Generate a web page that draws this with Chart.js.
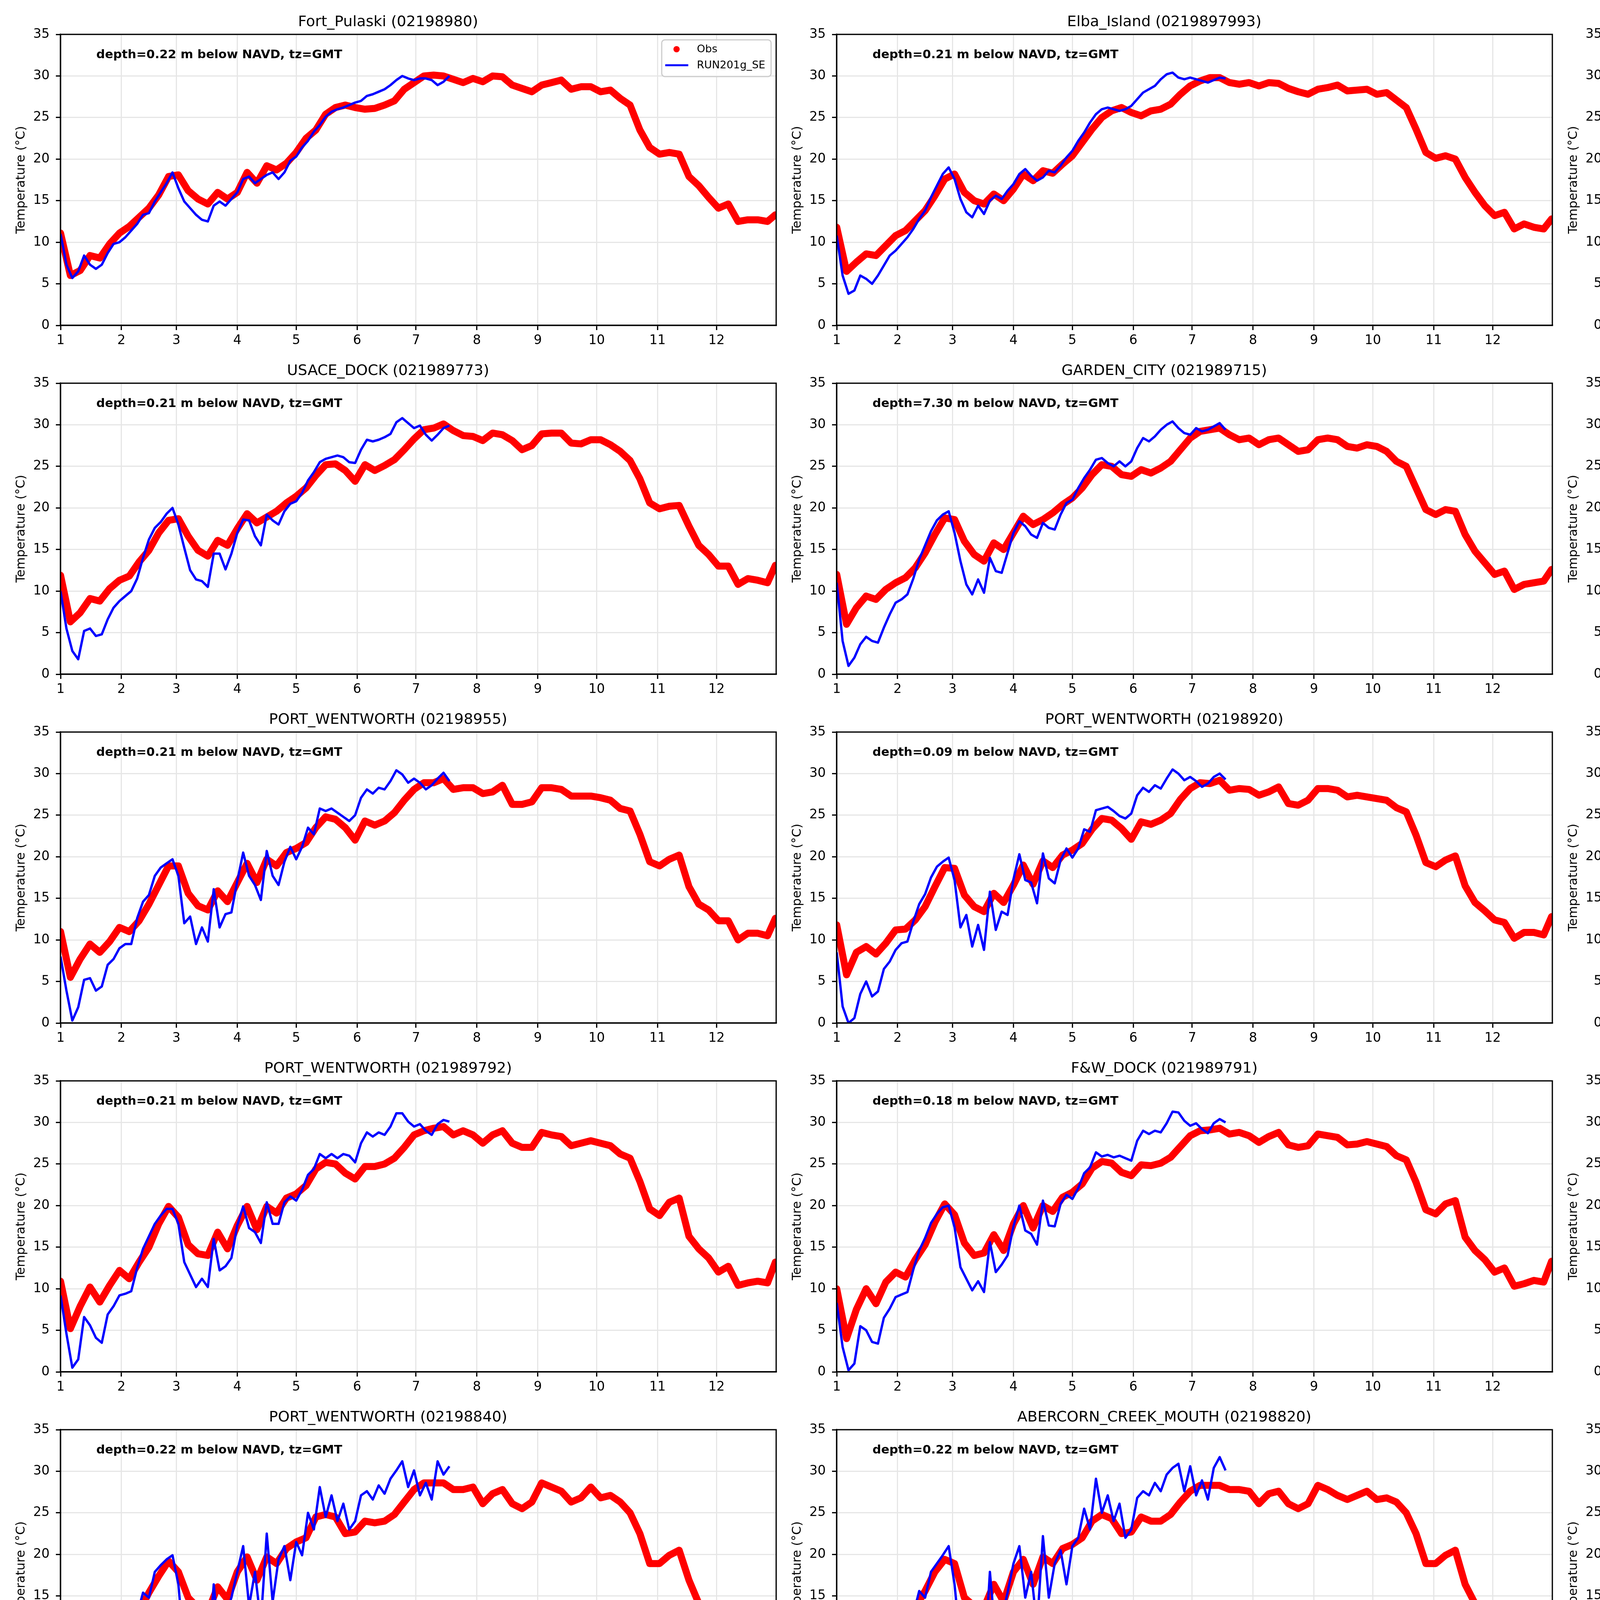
<!DOCTYPE html>
<html lang="en">
<head>
    <meta charset="UTF-8">
    <title>Water temperature: Obs vs RUN201g_SE</title>
    <script src="https://cdn.jsdelivr.net/npm/chart.js"></script>
    <style>
        body {
            margin: 0;
            background-color: #fff;
            overflow: hidden;
        }
        #panels {
            position: relative;
            width: 6000px;
            height: 4500px;
        }
        #panels canvas {
            position: absolute;
        }
    </style>
</head>
<body>
    <div id="panels"></div>

    <script>
        // x axis is day of year, ticks at the first day of each month
        const monthStartDay = [0, 31, 59, 90, 120, 151, 181, 212, 243, 273, 304, 334];
        const monthLabels = ['1', '2', '3', '4', '5', '6', '7', '8', '9', '10', '11', '12'];
        const yTicks = [0, 5, 10, 15, 20, 25, 30, 35];

        const stationTitles = [
            'Fort_Pulaski (02198980)', 'Elba_Island (0219897993)', 'US17 (0219897945)',
            'USACE_DOCK (021989773)', 'GARDEN_CITY (021989715)', 'HOG_ISLAND (021989793)',
            'PORT_WENTWORTH (02198955)', 'PORT_WENTWORTH (02198920)', 'PORT_WENTWORTH (02198950)',
            'PORT_WENTWORTH (021989792)', 'F&W_DOCK (021989791)', 'LUCKNOW_CANAL (021989784)',
            'PORT_WENTWORTH (02198840)', 'ABERCORN_CREEK_MOUTH (02198820)', 'ABERCORN_CREEK (02198810)'
        ];
        const stationDepths = ['0.22', '0.21', '0.21', '0.21', '7.30', '0.21', '0.21', '0.09', '0.21',
                               '0.21', '0.18', '0.22', '0.22', '0.22', '0.00'];

        // sample days for the observations and for the model run
        const obsDays = [0, 5, 10, 15, 20, 25, 30, 35, 40, 45, 50, 55, 60, 65, 70, 75, 80, 85, 90, 95,
                         100, 105, 110, 115, 120, 125, 130, 135, 140, 145, 150, 155, 160, 165, 170, 175,
                         180, 185, 190, 195, 200, 205, 210, 215, 220, 225, 230, 235, 240, 245, 250, 255,
                         260, 265, 270, 275, 280, 285, 290, 295, 300, 305, 310, 315, 320, 325, 330, 335,
                         340, 345, 350, 355, 360, 364];
        const modelDays = [0, 3, 6, 9, 12, 15, 18, 21, 24, 27, 30, 33, 36, 39, 42, 45, 48, 51, 54, 57,
                           60, 63, 66, 69, 72, 75, 78, 81, 84, 87, 90, 93, 96, 99, 102, 105, 108, 111,
                           114, 117, 120, 123, 126, 129, 132, 135, 138, 141, 144, 147, 150, 153, 156,
                           159, 162, 165, 168, 171, 174, 177, 180, 183, 186, 189, 192, 195, 198];

        // ---- observed temperature (deg C) ----
        const obsFortPulaski = [
            11.1, 6.0, 6.6, 8.4, 8.1, 9.8, 11.1, 11.9, 13.0, 14.1,
            15.7, 17.9, 18.1, 16.2, 15.2, 14.6, 16.0, 15.2, 16.0, 18.4,
            17.1, 19.2, 18.7, 19.5, 20.8, 22.5, 23.5, 25.4, 26.2, 26.5,
            26.2, 26.0, 26.1, 26.5, 27.0, 28.4, 29.2, 30.0, 30.1, 30.0,
            29.6, 29.2, 29.7, 29.3, 30.0, 29.9, 28.9, 28.5, 28.1, 28.9,
            29.2, 29.5, 28.4, 28.7, 28.7, 28.1, 28.3, 27.3, 26.5, 23.5,
            21.4, 20.6, 20.8, 20.6, 17.9, 16.8, 15.4, 14.1, 14.6, 12.5,
            12.7, 12.7, 12.5, 13.3];
        const obsElba = [
            11.8, 6.5, 7.6, 8.6, 8.4, 9.6, 10.8, 11.4, 12.6, 13.8,
            15.6, 17.6, 18.2, 16.0, 15.0, 14.6, 15.8, 15.0, 16.4, 18.2,
            17.4, 18.6, 18.3, 19.4, 20.4, 22.0, 23.6, 25.0, 25.8, 26.2,
            25.6, 25.2, 25.8, 26.0, 26.6, 27.8, 28.8, 29.4, 29.8, 29.8,
            29.2, 29.0, 29.2, 28.8, 29.2, 29.1, 28.5, 28.1, 27.8, 28.4,
            28.6, 28.9, 28.2, 28.3, 28.4, 27.8, 28.0, 27.1, 26.2, 23.6,
            20.8, 20.1, 20.4, 20.0, 17.8, 16.0, 14.4, 13.2, 13.6, 11.6,
            12.2, 11.8, 11.6, 12.8];
        const obsUS17 = [
            11.1, 5.0, 6.5, 9.3, 8.6, 10.4, 11.6, 12.4, 13.7, 14.9,
            17.2, 19.0, 18.0, 15.7, 14.2, 14.7, 16.2, 14.7, 17.7, 19.8,
            17.0, 19.5, 19.3, 20.8, 22.6, 23.8, 24.9, 25.9, 25.9, 25.4,
            24.4, 25.6, 25.4, 25.9, 26.9, 28.2, 28.9, 29.4, 29.2, 29.4,
            29.4, 29.2, 28.7, 28.4, 28.9, 28.9, 28.9, 27.9, 27.4, 28.7,
            28.4, 28.4, 28.2, 28.2, 27.9, 28.2, 27.4, 26.4, 25.9, 23.3,
            20.8, 19.3, 20.0, 19.5, 17.2, 15.7, 14.2, 12.6, 13.7, 10.9,
            10.6, 11.6, 11.1, 13.7];
        const obsUsaceDock = [
            11.9, 6.3, 7.4, 9.1, 8.8, 10.3, 11.3, 11.8, 13.5, 14.9,
            17.0, 18.5, 18.7, 16.6, 14.9, 14.2, 16.1, 15.5, 17.5, 19.3,
            18.2, 18.9, 19.6, 20.6, 21.4, 22.4, 23.9, 25.2, 25.3, 24.5,
            23.2, 25.2, 24.5, 25.1, 25.8, 27.0, 28.3, 29.4, 29.6, 30.1,
            29.3, 28.7, 28.6, 28.1, 29.0, 28.8, 28.1, 27.0, 27.5, 28.9,
            29.0, 29.0, 27.8, 27.7, 28.2, 28.2, 27.6, 26.8, 25.7, 23.5,
            20.6, 19.9, 20.2, 20.3, 17.8, 15.5, 14.4, 13.0, 13.0, 10.8,
            11.5, 11.3, 11.0, 13.1];
        const obsGardenCity = [
            12.0, 6.0, 8.0, 9.4, 9.0, 10.2, 11.0, 11.6, 12.8, 14.6,
            16.8, 18.8, 18.6, 16.0, 14.4, 13.6, 15.8, 15.0, 17.0, 19.0,
            18.0, 18.6, 19.4, 20.4, 21.2, 22.4, 24.0, 25.2, 25.0, 24.0,
            23.8, 24.6, 24.2, 24.8, 25.6, 27.0, 28.4, 29.2, 29.4, 29.6,
            28.8, 28.2, 28.4, 27.6, 28.2, 28.4, 27.6, 26.8, 27.0, 28.2,
            28.4, 28.2, 27.4, 27.2, 27.6, 27.4, 26.8, 25.6, 25.0, 22.4,
            19.8, 19.2, 19.8, 19.6, 16.8, 14.8, 13.4, 12.0, 12.4, 10.2,
            10.8, 11.0, 11.2, 12.6];
        const obsHogIsland = [
            10.8, 3.8, 9.0, 9.5, 7.7, 10.8, 12.3, 11.5, 13.3, 15.1,
            17.7, 20.0, 18.4, 15.9, 14.4, 13.6, 16.9, 15.4, 17.9, 20.0,
            16.9, 20.2, 19.2, 21.2, 22.3, 23.5, 25.1, 25.6, 25.1, 24.5,
            24.8, 25.8, 25.3, 25.3, 26.6, 28.1, 28.9, 29.1, 29.4, 29.1,
            28.4, 28.6, 27.9, 28.9, 29.1, 28.1, 27.4, 27.1, 26.8, 28.1,
            28.6, 28.1, 27.1, 27.6, 28.1, 27.4, 27.6, 26.6, 25.6, 23.0,
            19.4, 19.4, 20.0, 20.5, 16.9, 15.9, 13.3, 13.8, 11.3, 10.5,
            11.0, 11.0, 11.3, 13.3];
        const obsPw955 = [
            11.0, 5.5, 7.7, 9.5, 8.5, 9.8, 11.5, 11.0, 12.3, 14.3,
            16.6, 18.9, 18.9, 15.6, 14.1, 13.6, 15.9, 14.6, 16.9, 19.2,
            16.9, 19.7, 18.9, 20.5, 21.0, 21.7, 23.5, 24.8, 24.5, 23.5,
            22.0, 24.3, 23.8, 24.3, 25.3, 26.8, 28.1, 28.9, 28.9, 29.4,
            28.1, 28.3, 28.3, 27.6, 27.8, 28.6, 26.3, 26.3, 26.6, 28.3,
            28.3, 28.1, 27.3, 27.3, 27.3, 27.1, 26.8, 25.8, 25.5, 22.7,
            19.4, 18.9, 19.7, 20.2, 16.4, 14.3, 13.6, 12.3, 12.3, 10.0,
            10.8, 10.8, 10.5, 12.6];
        const obsPw920 = [
            11.8, 5.8, 8.5, 9.2, 8.3, 9.6, 11.2, 11.3, 12.4, 14.0,
            16.4, 18.7, 18.6, 15.4, 14.0, 13.4, 15.6, 14.5, 16.6, 19.0,
            16.7, 19.5, 18.7, 20.2, 20.8, 21.6, 23.3, 24.6, 24.4, 23.4,
            22.1, 24.2, 23.9, 24.4, 25.2, 26.9, 28.2, 28.9, 28.8, 29.2,
            28.0, 28.2, 28.1, 27.4, 27.8, 28.4, 26.4, 26.2, 26.8, 28.2,
            28.2, 28.0, 27.2, 27.4, 27.2, 27.0, 26.8, 25.9, 25.4, 22.6,
            19.3, 18.8, 19.6, 20.1, 16.5, 14.5, 13.5, 12.4, 12.1, 10.2,
            10.9, 10.9, 10.6, 12.8];
        const obsPw950 = [
            11.2, 5.2, 8.2, 9.6, 8.6, 10.0, 11.6, 11.1, 12.6, 14.5,
            16.8, 19.1, 18.8, 15.5, 14.2, 13.7, 16.0, 14.8, 17.1, 19.4,
            17.0, 19.8, 19.0, 20.6, 21.2, 21.9, 23.7, 24.9, 24.6, 23.6,
            22.3, 24.4, 24.0, 24.5, 25.5, 26.9, 28.3, 29.0, 29.0, 29.3,
            28.2, 28.4, 28.2, 27.6, 27.9, 28.5, 26.5, 26.4, 26.7, 28.4,
            28.3, 28.0, 27.4, 27.2, 27.4, 27.0, 26.9, 25.9, 25.6, 22.8,
            19.5, 19.0, 19.8, 20.3, 16.5, 14.4, 13.7, 12.4, 12.2, 10.1,
            10.9, 10.7, 10.6, 12.9];
        const obsPw792 = [
            10.9, 5.2, 7.9, 10.2, 8.4, 10.4, 12.2, 11.2, 13.2, 15.0,
            17.8, 19.9, 18.6, 15.3, 14.2, 14.0, 16.8, 14.8, 17.6, 19.9,
            17.1, 19.9, 19.1, 20.9, 21.4, 22.4, 24.4, 25.2, 25.0, 23.9,
            23.2, 24.7, 24.7, 25.0, 25.7, 27.0, 28.5, 29.0, 29.3, 29.5,
            28.5, 29.0, 28.5, 27.5, 28.5, 29.0, 27.5, 27.0, 27.0, 28.8,
            28.5, 28.3, 27.2, 27.5, 27.8, 27.5, 27.2, 26.2, 25.7, 22.9,
            19.6, 18.8, 20.4, 20.9, 16.3, 14.8, 13.7, 12.0, 12.7, 10.4,
            10.7, 10.9, 10.7, 13.2];
        const obsFwDock = [
            10.0, 4.0, 7.5, 10.0, 8.2, 10.8, 12.0, 11.4, 13.5, 15.3,
            18.0, 20.2, 18.9, 15.5, 14.0, 14.3, 16.5, 14.6, 17.8, 20.0,
            17.3, 20.0, 19.3, 21.0, 21.6, 22.6, 24.5, 25.3, 25.1, 24.0,
            23.6, 24.9, 24.8, 25.1, 25.8, 27.1, 28.4, 29.0, 29.1, 29.3,
            28.6, 28.8, 28.4, 27.6, 28.3, 28.8, 27.3, 27.0, 27.2, 28.6,
            28.4, 28.2, 27.3, 27.4, 27.7, 27.4, 27.1, 26.0, 25.5, 22.8,
            19.5, 19.0, 20.2, 20.6, 16.2, 14.6, 13.5, 12.0, 12.5, 10.3,
            10.6, 11.0, 10.8, 13.3];
        const obsLucknow = [
            9.9, 3.6, 7.9, 9.7, 7.9, 10.7, 12.7, 11.2, 13.5, 15.8,
            17.8, 20.4, 19.3, 15.3, 13.7, 13.0, 16.8, 14.2, 18.3, 20.4,
            17.3, 19.9, 18.8, 20.9, 21.4, 22.4, 24.4, 25.5, 25.2, 24.4,
            24.4, 25.0, 25.5, 25.2, 26.5, 27.8, 28.3, 28.8, 29.0, 29.5,
            28.3, 28.0, 27.5, 27.8, 28.8, 28.3, 27.0, 26.7, 27.2, 28.0,
            28.3, 27.5, 27.2, 27.0, 27.2, 27.0, 26.5, 25.5, 25.5, 21.9,
            19.3, 18.8, 19.9, 19.9, 16.3, 14.8, 13.7, 12.7, 12.7, 9.9,
            10.9, 11.7, 10.9, 13.7];
        const obsPw840 = [
            10.5, 5.8, 6.4, 10.8, 8.0, 11.0, 12.3, 11.3, 13.1, 15.4,
            17.4, 19.2, 17.9, 14.8, 13.6, 13.1, 16.1, 14.6, 17.9, 19.7,
            16.9, 19.7, 18.9, 20.7, 21.5, 22.0, 24.5, 24.8, 24.5, 22.5,
            22.7, 24.0, 23.8, 24.0, 24.8, 26.3, 27.8, 28.6, 28.6, 28.6,
            27.8, 27.8, 28.1, 26.1, 27.3, 27.8, 26.1, 25.5, 26.3, 28.6,
            28.1, 27.6, 26.3, 26.8, 28.1, 26.8, 27.1, 26.3, 25.0, 22.5,
            18.9, 18.9, 19.9, 20.5, 16.9, 14.1, 13.6, 12.0, 12.8, 9.8,
            10.8, 11.3, 10.8, 12.8];
        const obsAbercornMouth = [
            10.5, 5.0, 5.9, 10.5, 8.0, 10.8, 12.6, 11.5, 13.6, 15.6,
            17.9, 19.4, 18.9, 14.8, 13.8, 13.6, 16.4, 14.3, 17.9, 19.4,
            16.4, 19.7, 18.9, 20.7, 21.2, 22.0, 24.0, 24.8, 24.3, 22.5,
            22.7, 24.5, 24.0, 24.0, 24.8, 26.3, 27.6, 28.3, 28.3, 28.3,
            27.8, 27.8, 27.6, 26.1, 27.3, 27.6, 26.1, 25.5, 26.1, 28.3,
            27.8, 27.1, 26.6, 27.1, 27.6, 26.6, 26.8, 26.3, 25.0, 22.5,
            18.9, 18.9, 19.9, 20.5, 16.4, 14.1, 13.8, 11.3, 11.8, 9.2,
            11.8, 11.0, 10.8, 13.3];
        const obsAbercornCreek = [
            10.5, 4.0, 6.7, 11.0, 7.2, 10.5, 12.0, 11.0, 13.6, 15.9,
            18.4, 19.7, 18.9, 15.1, 13.8, 13.8, 16.6, 14.8, 17.9, 19.2,
            16.9, 19.4, 18.7, 20.5, 21.0, 22.0, 23.8, 24.8, 24.0, 22.5,
            23.5, 24.8, 24.3, 24.3, 25.0, 26.6, 27.8, 28.9, 29.1, 28.9,
            27.8, 28.1, 27.6, 26.1, 27.6, 27.3, 26.1, 25.8, 26.6, 28.3,
            27.8, 27.6, 26.6, 27.1, 27.3, 26.6, 26.8, 26.1, 24.8, 22.0,
            18.7, 18.9, 19.4, 20.5, 16.4, 14.3, 12.8, 10.5, 12.8, 8.7,
            11.3, 11.8, 10.8, 13.1];

        // ---- RUN201g_SE model temperature (deg C) ----
        const modFortPulaski = [
            11.0, 7.3, 5.7, 6.5, 8.4, 7.3, 6.8, 7.3, 8.7, 9.8,
            10.0, 10.6, 11.4, 12.2, 13.3, 13.5, 14.9, 16.0, 17.1, 18.4,
            16.5, 14.9, 14.1, 13.3, 12.7, 12.5, 14.4, 14.9, 14.4, 15.2,
            16.0, 17.6, 17.9, 17.1, 17.6, 18.1, 18.4, 17.6, 18.4, 19.8,
            20.3, 21.4, 22.2, 23.3, 24.1, 25.1, 25.7, 26.0, 26.2, 26.5,
            26.8, 27.0, 27.6, 27.8, 28.1, 28.4, 28.9, 29.5, 30.0, 29.7,
            29.5, 29.7, 29.7, 29.5, 28.9, 29.3, 30.0];
        const modElba = [
            10.8, 6.0, 3.8, 4.2, 6.0, 5.6, 5.0, 6.0, 7.2, 8.4,
            9.0, 9.8, 10.6, 11.6, 12.8, 13.8, 15.4, 16.8, 18.2, 19.0,
            17.6, 15.2, 13.6, 13.0, 14.4, 13.4, 15.0, 15.6, 15.2, 16.2,
            17.0, 18.2, 18.8, 18.0, 17.4, 17.8, 18.6, 18.4, 19.2, 20.2,
            21.0, 22.2, 23.2, 24.4, 25.4, 26.0, 26.2, 26.0, 25.8, 26.0,
            26.4, 27.2, 28.0, 28.4, 28.8, 29.6, 30.2, 30.4, 29.8, 29.6,
            29.8, 29.6, 29.4, 29.2, 29.5, 29.8, 29.7];
        const modUS17 = [
            10.1, 6.8, 4.0, 3.7, 5.3, 5.5, 4.8, 5.5, 6.5, 7.8,
            9.1, 9.8, 10.9, 11.6, 13.2, 14.7, 16.7, 18.0, 19.3, 19.5,
            18.5, 16.2, 14.2, 12.4, 11.9, 11.6, 14.7, 14.2, 13.4, 14.7,
            16.7, 18.5, 18.8, 17.2, 16.7, 18.2, 18.0, 18.5, 19.3, 20.3,
            21.3, 22.0, 22.8, 24.1, 25.1, 25.9, 26.1, 26.4, 26.6, 26.1,
            25.9, 27.2, 28.7, 27.9, 28.4, 28.9, 29.7, 30.5, 31.0, 30.7,
            30.5, 30.7, 30.0, 28.9, 28.7, 29.4, 30.5];
        const modUsaceDock = [
            10.0, 5.5, 2.8, 1.8, 5.2, 5.5, 4.6, 4.8, 6.6, 8.0,
            8.8, 9.4, 10.0, 11.5, 14.0, 16.2, 17.6, 18.3, 19.3, 20.0,
            18.0, 15.2, 12.5, 11.4, 11.2, 10.5, 14.5, 14.5, 12.6, 14.5,
            17.0, 18.6, 18.5, 16.6, 15.5, 19.2, 18.5, 18.0, 19.6, 20.5,
            20.8, 21.8, 23.3, 24.3, 25.5, 25.9, 26.1, 26.3, 26.1, 25.5,
            25.4, 27.0, 28.2, 28.0, 28.2, 28.5, 28.9, 30.3, 30.8, 30.2,
            29.6, 29.9, 28.8, 28.1, 28.8, 29.6, 29.9];
        const modGardenCity = [
            11.0, 4.0, 1.0, 2.0, 3.6, 4.5, 4.0, 3.8, 5.6, 7.2,
            8.6, 9.0, 9.6, 11.5, 13.8, 15.5, 17.2, 18.5, 19.2, 19.6,
            17.0, 13.6, 10.8, 9.6, 11.4, 9.8, 14.0, 12.4, 12.2, 14.6,
            17.0, 18.4, 17.8, 16.8, 16.4, 18.2, 17.6, 17.4, 19.2, 20.6,
            21.0, 22.4, 23.6, 24.6, 25.8, 26.0, 25.4, 25.0, 25.6, 25.0,
            25.6, 27.2, 28.4, 28.0, 28.6, 29.4, 30.0, 30.4, 29.6, 29.0,
            28.8, 29.6, 29.2, 29.4, 29.8, 30.2, 29.4];
        const modHogIsland = [
            9.5, 6.2, 3.1, 4.4, 5.7, 4.9, 4.4, 5.7, 6.7, 7.5,
            8.7, 9.3, 10.3, 11.8, 13.6, 15.1, 16.9, 18.4, 19.4, 20.0,
            18.9, 15.4, 12.8, 11.8, 12.3, 11.8, 14.9, 14.4, 13.1, 14.4,
            16.6, 18.7, 18.4, 17.2, 18.4, 17.9, 18.4, 18.4, 20.0, 21.0,
            20.7, 22.0, 23.5, 24.8, 25.6, 26.1, 26.3, 26.6, 26.8, 27.1,
            26.8, 27.6, 28.9, 28.6, 28.4, 29.1, 29.9, 30.7, 30.9, 30.7,
            30.4, 30.7, 29.6, 29.1, 29.4, 29.9, 30.2];
        const modPw955 = [
            8.0, 3.9, 0.3, 1.9, 5.2, 5.4, 3.9, 4.4, 7.0, 7.7,
            9.0, 9.5, 9.5, 12.6, 14.6, 15.4, 17.7, 18.7, 19.2, 19.7,
            17.7, 12.0, 12.8, 9.5, 11.5, 9.8, 16.1, 11.5, 13.1, 13.3,
            17.1, 20.5, 17.7, 16.6, 14.8, 20.7, 17.7, 16.6, 19.4, 21.2,
            19.7, 21.2, 23.5, 22.7, 25.8, 25.5, 25.8, 25.3, 24.8, 24.3,
            25.0, 27.1, 28.1, 27.6, 28.3, 28.1, 29.1, 30.4, 29.9, 28.9,
            29.4, 28.9, 28.1, 28.6, 29.4, 30.1, 29.1];
        const modPw920 = [
            8.5, 2.0, 0.0, 0.6, 3.5, 5.0, 3.2, 3.8, 6.5, 7.4,
            8.8, 9.6, 9.8, 12.2, 14.3, 15.5, 17.5, 18.8, 19.4, 19.9,
            17.2, 11.5, 13.0, 9.2, 11.8, 8.8, 15.8, 11.2, 13.4, 13.0,
            17.3, 20.3, 17.2, 16.9, 14.4, 20.4, 17.4, 16.8, 19.6, 21.0,
            19.9, 21.0, 23.3, 23.0, 25.6, 25.8, 26.0, 25.5, 24.9, 24.6,
            25.2, 27.4, 28.3, 27.8, 28.6, 28.2, 29.4, 30.5, 30.0, 29.2,
            29.6, 29.1, 28.4, 28.8, 29.6, 30.0, 29.3];
        const modPw950 = [
            7.5, 2.5, 0.0, 1.2, 4.6, 5.2, 3.6, 4.2, 6.8, 7.6,
            9.2, 9.3, 9.8, 12.4, 14.8, 15.6, 17.8, 18.9, 19.5, 19.8,
            17.5, 12.3, 12.5, 9.8, 11.4, 9.5, 16.3, 11.8, 13.0, 13.6,
            17.3, 20.2, 17.5, 16.8, 15.0, 20.5, 17.9, 16.4, 19.6, 21.3,
            19.9, 21.4, 23.4, 22.9, 25.9, 25.6, 25.7, 25.5, 24.6, 24.5,
            25.2, 27.3, 28.3, 27.7, 28.5, 28.2, 29.3, 30.6, 30.0, 29.0,
            29.5, 29.0, 28.2, 28.8, 29.5, 30.0, 29.4];
        const modPw792 = [
            9.2, 4.6, 0.5, 1.5, 6.6, 5.6, 4.1, 3.5, 6.9, 7.9,
            9.2, 9.4, 9.7, 12.5, 14.8, 16.3, 17.8, 18.8, 19.6, 19.6,
            17.8, 13.2, 11.7, 10.2, 11.2, 10.2, 16.0, 12.2, 12.7, 13.7,
            17.6, 19.9, 17.3, 16.8, 15.5, 20.4, 17.8, 17.8, 20.4, 21.1,
            20.6, 21.9, 23.7, 24.4, 26.2, 25.7, 26.2, 25.7, 26.2, 26.0,
            25.2, 27.5, 28.8, 28.3, 28.8, 28.5, 29.5, 31.1, 31.1, 30.1,
            29.5, 29.8, 29.0, 28.5, 29.8, 30.3, 30.1];
        const modFwDock = [
            8.3, 3.0, 0.2, 1.0, 5.5, 5.0, 3.6, 3.4, 6.5, 7.6,
            9.0, 9.3, 9.6, 12.3, 14.6, 16.1, 17.9, 19.0, 19.8, 20.0,
            17.4, 12.6, 11.2, 9.8, 10.9, 9.6, 15.6, 12.0, 12.9, 14.0,
            17.5, 20.0, 17.0, 16.6, 15.3, 20.6, 17.6, 17.5, 20.2, 21.3,
            20.8, 22.1, 23.9, 24.6, 26.4, 25.9, 26.1, 25.8, 26.0, 25.7,
            25.4, 27.8, 29.0, 28.6, 29.0, 28.8, 29.9, 31.3, 31.2, 30.2,
            29.6, 29.9, 29.2, 28.7, 29.9, 30.4, 30.0];
        const modLucknow = [
            6.6, 3.0, 0.5, 2.8, 7.1, 5.1, 3.5, 4.8, 7.4, 7.9,
            8.9, 8.4, 9.2, 11.7, 13.7, 15.3, 17.6, 18.8, 19.9, 20.4,
            17.8, 12.7, 11.4, 10.4, 11.2, 11.2, 15.5, 12.2, 12.7, 14.8,
            18.6, 20.4, 17.8, 16.8, 16.3, 20.4, 17.8, 17.8, 20.4, 21.9,
            20.4, 22.4, 24.4, 24.7, 26.5, 26.0, 26.2, 26.0, 25.7, 25.0,
            26.5, 28.0, 29.3, 28.8, 29.0, 29.3, 30.3, 31.6, 31.3, 30.1,
            29.8, 29.5, 28.8, 28.5, 29.5, 30.1, 29.3];
        const modPw840 = [
            6.7, 2.1, 0.1, 1.6, 6.7, 4.7, 2.9, 4.9, 8.5, 9.8,
            8.5, 9.2, 10.8, 12.8, 15.4, 14.8, 17.9, 18.7, 19.4, 19.9,
            16.4, 8.5, 12.3, 8.2, 13.3, 7.2, 16.4, 9.2, 12.8, 14.8,
            17.9, 21.0, 13.8, 17.9, 11.8, 22.5, 14.3, 19.4, 21.0, 16.9,
            21.5, 19.9, 25.0, 23.0, 28.1, 24.5, 27.1, 24.0, 26.1, 23.0,
            24.0, 27.1, 27.6, 26.6, 28.3, 27.3, 29.1, 30.1, 31.2, 28.1,
            30.1, 27.1, 28.6, 26.6, 31.2, 29.6, 30.6];
        const modAbercornMouth = [
            7.7, 1.6, 0.1, 2.1, 7.2, 4.2, 2.9, 4.7, 7.2, 8.0,
            9.8, 9.2, 10.3, 12.8, 15.6, 14.8, 17.9, 18.9, 19.9, 21.0,
            16.4, 9.2, 13.3, 7.2, 14.3, 6.2, 17.9, 9.8, 12.3, 15.4,
            18.9, 21.0, 14.8, 17.9, 11.3, 22.2, 14.8, 18.9, 20.5, 16.4,
            21.0, 22.0, 25.5, 23.0, 29.1, 25.0, 27.1, 24.0, 26.1, 22.0,
            23.0, 26.8, 27.6, 27.1, 28.6, 27.6, 29.6, 30.4, 30.9, 27.6,
            30.6, 27.1, 28.9, 26.6, 30.4, 31.7, 30.1];
        const modAbercornCreek = [
            5.4, 0.0, 0.0, 6.7, 9.8, 4.7, 3.1, 5.4, 7.2, 10.5,
            7.7, 8.7, 10.8, 12.8, 16.9, 15.1, 16.9, 18.9, 19.9, 20.5,
            18.4, 11.8, 10.3, 8.7, 10.3, 11.8, 16.9, 10.3, 12.8, 15.4,
            19.4, 20.5, 16.4, 17.4, 14.3, 22.0, 15.4, 17.4, 19.9, 21.0,
            18.9, 21.0, 23.8, 24.3, 26.3, 25.0, 24.8, 25.3, 26.1, 24.0,
            26.3, 28.1, 29.6, 29.6, 29.9, 30.1, 30.9, 31.9, 32.4, 31.7,
            31.4, 29.6, 28.1, 28.6, 27.1, 27.8, 27.6];

        const obsSeries = [obsFortPulaski, obsElba, obsUS17, obsUsaceDock, obsGardenCity, obsHogIsland,
                           obsPw955, obsPw920, obsPw950, obsPw792, obsFwDock, obsLucknow,
                           obsPw840, obsAbercornMouth, obsAbercornCreek];
        const modelSeries = [modFortPulaski, modElba, modUS17, modUsaceDock, modGardenCity, modHogIsland,
                             modPw955, modPw920, modPw950, modPw792, modFwDock, modLucknow,
                             modPw840, modAbercornMouth, modAbercornCreek];

        const FONT = '"DejaVu Sans", sans-serif';

        // pair day list with values
        function toPoints(days, values) {
            const n = Math.min(days.length, values.length);
            const pts = [];
            for (let i = 0; i < n; i++) pts.push({ x: days[i], y: values[i] });
            return pts;
        }

        // frame, depth note and (first panel only) legend
        const panelDecor = {
            id: 'panelDecor',
            afterDatasetsDraw(chart, args, opts) {
                const { ctx, chartArea: a } = chart;
                ctx.save();
                ctx.strokeStyle = '#000';
                ctx.lineWidth = 3.2;
                ctx.strokeRect(a.left, a.top, a.right - a.left, a.bottom - a.top);

                ctx.fillStyle = '#000';
                ctx.font = 'bold 31px ' + FONT;
                ctx.textAlign = 'left';
                ctx.textBaseline = 'top';
                ctx.fillText(opts.note, a.left + 0.05 * (a.right - a.left), a.top + 0.05 * (a.bottom - a.top));

                if (opts.legend) {
                    const ds = chart.data.datasets;
                    const obsSet = ds.find(d => d.label === 'Obs');
                    const modSet = ds.find(d => d.label === 'RUN201g_SE');
                    const bx = a.right - 13 - 280, by = a.top + 14, bw = 280, bh = 94;
                    ctx.beginPath();
                    ctx.roundRect(bx, by, bw, bh, 8);
                    ctx.fillStyle = 'rgba(255,255,255,0.8)';
                    ctx.fill();
                    ctx.strokeStyle = '#cccccc';
                    ctx.lineWidth = 3;
                    ctx.stroke();

                    ctx.fillStyle = obsSet.borderColor;
                    ctx.beginPath();
                    ctx.arc(bx + 38, by + 24, 8, 0, Math.PI * 2);
                    ctx.fill();

                    ctx.strokeStyle = modSet.borderColor;
                    ctx.lineWidth = 5;
                    ctx.beginPath();
                    ctx.moveTo(bx + 9, by + 65);
                    ctx.lineTo(bx + 68, by + 65);
                    ctx.stroke();

                    ctx.fillStyle = '#000';
                    ctx.font = '27px ' + FONT;
                    ctx.textBaseline = 'middle';
                    ctx.fillText('Obs', bx + 90, by + 25);
                    ctx.fillText('RUN201g_SE', bx + 90, by + 66);
                }
                ctx.restore();
            }
        };

        const holder = document.getElementById('panels');
        const CELL_W = 1987, CELL_H = 893;
        const CANVAS_W = 2007, CANVAS_H = 900;

        stationTitles.forEach((title, k) => {
            const row = Math.floor(k / 3), col = k % 3;
            const canvas = document.createElement('canvas');
            canvas.width = CANVAS_W;
            canvas.height = CANVAS_H;
            canvas.style.width = CANVAS_W + 'px';
            canvas.style.height = CANVAS_H + 'px';
            canvas.style.left = (col * CELL_W) + 'px';
            canvas.style.top = (row * CELL_H) + 'px';
            holder.appendChild(canvas);

            new Chart(canvas.getContext('2d'), {
                type: 'line',
                data: {
                    datasets: [{
                        label: 'Obs',
                        data: toPoints(obsDays, obsSeries[k]),
                        borderColor: '#ff0000',
                        borderWidth: 18,
                        borderJoinStyle: 'round',
                        borderCapStyle: 'round',
                        pointRadius: 0,
                        tension: 0,
                        clip: 0,
                        order: 2
                    }, {
                        label: 'RUN201g_SE',
                        data: toPoints(modelDays, modelSeries[k]),
                        borderColor: '#0000ff',
                        borderWidth: 6,
                        borderJoinStyle: 'round',
                        pointRadius: 0,
                        tension: 0,
                        clip: 0,
                        order: 1
                    }]
                },
                options: {
                    responsive: false,
                    animation: false,
                    devicePixelRatio: 1,
                    layout: { padding: { top: 0, left: 0, right: 20, bottom: 0 } },
                    plugins: {
                        legend: { display: false },
                        tooltip: { enabled: false },
                        title: {
                            display: true,
                            text: title,
                            color: '#000',
                            font: { family: FONT, size: 38, weight: 'normal', lineHeight: 1.2 },
                            padding: { top: 34, bottom: 8.4 }
                        },
                        panelDecor: {
                            note: 'depth=' + stationDepths[k] + ' m below NAVD, tz=GMT',
                            legend: k === 0
                        }
                    },
                    scales: {
                        x: {
                            type: 'linear',
                            min: 0,
                            max: 364.4,
                            afterBuildTicks: scale => {
                                scale.ticks = monthStartDay.map(v => ({ value: v }));
                            },
                            afterFit: scale => { scale.height = CANVAS_H - 833; },
                            ticks: {
                                autoSkip: false,
                                maxRotation: 0,
                                padding: 8,
                                color: '#000',
                                font: { family: FONT, size: 33 },
                                callback: v => monthLabels[monthStartDay.indexOf(v)]
                            },
                            grid: {
                                color: '#e6e6e6',
                                lineWidth: 3,
                                tickColor: '#000',
                                tickLength: 12,
                                tickWidth: 3.2
                            },
                            border: { color: '#000', width: 3.2 }
                        },
                        y: {
                            min: 0,
                            max: 35,
                            afterBuildTicks: scale => {
                                scale.ticks = yTicks.map(v => ({ value: v }));
                            },
                            afterFit: scale => { scale.width = 155; },
                            ticks: {
                                padding: 16,
                                color: '#000',
                                font: { family: FONT, size: 33 }
                            },
                            grid: {
                                color: '#e6e6e6',
                                lineWidth: 3,
                                tickColor: '#000',
                                tickLength: 12,
                                tickWidth: 3.2
                            },
                            border: { color: '#000', width: 3.2 },
                            title: {
                                display: true,
                                text: 'Temperature (°C)',
                                color: '#000',
                                font: { family: FONT, size: 32, lineHeight: 1.2 },
                                padding: { top: 35, bottom: 0 }
                            }
                        }
                    }
                },
                plugins: [panelDecor]
            });
        });
    </script>
</body>
</html>
